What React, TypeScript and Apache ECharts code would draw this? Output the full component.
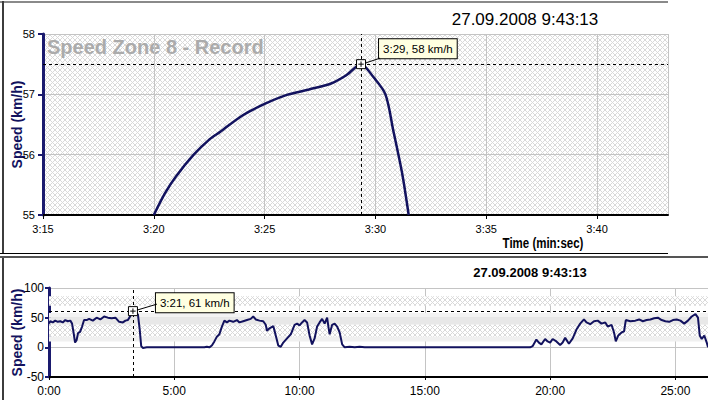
import React, { useEffect, useRef } from 'react';
import * as echarts from 'echarts';

// zoomed record, seconds / km/h
const zoomTimeSec = [200, 200.5, 201, 201.8, 202.5, 203, 204, 205, 206, 207, 208, 208.7, 209.35, 209.9, 210.45, 210.8, 211.2, 211.5];
const zoomSpeed = [55, 55.36, 55.64, 56, 56.25, 56.38, 56.65, 56.84, 56.99, 57.08, 57.18, 57.32, 57.5, 57.29, 57.0, 56.41, 55.7, 55.0];
const recordPeak = [209.35, 57.5];
const recordLabel = '3:29, 58 km/h';
const recordTitle = 'Speed Zone 8 - Record';
const recordDate = '27.09.2008 9:43:13';

// whole ride, minutes / km/h
const rideTimeMin = [
  0, 0.05, 0.15, 0.25, 0.35, 0.45, 0.55, 0.65, 0.75, 0.85, 0.92, 0.98, 1.04, 1.1, 1.16, 1.24, 1.32, 1.4, 1.5, 1.6,
  1.75, 1.9, 2.05, 2.2, 2.35, 2.5, 2.65, 2.8, 2.95, 3.05, 3.15, 3.25, 3.35, 3.45, 3.55, 3.62, 3.68, 3.75, 3.9, 5.0,
  6.2, 6.3, 6.4, 6.5, 6.6, 6.7, 6.8, 6.9, 7.0, 7.1, 7.2, 7.35, 7.5, 7.6, 7.75, 7.9, 8.05, 8.15, 8.25, 8.4,
  8.55, 8.65, 8.7, 8.8, 8.95, 9.05, 9.15, 9.25, 9.35, 9.5, 9.65, 9.8, 9.9, 10.0, 10.1, 10.2, 10.3, 10.4, 10.5, 10.6,
  10.7, 10.8, 10.9, 11.0, 11.1, 11.15, 11.2, 11.3, 11.4, 11.5, 11.6, 11.7, 11.8, 12.0, 12.2, 12.4, 12.6, 16.0, 19.2, 19.3,
  19.45, 19.55, 19.65, 19.8, 19.9, 20.0, 20.1, 20.25, 20.4, 20.5, 20.6, 20.75, 20.9, 21.05, 21.2, 21.35, 21.45, 21.6, 21.75, 21.9,
  22.05, 22.2, 22.3, 22.45, 22.55, 22.62, 22.72, 22.85, 22.95, 23.02, 23.2, 23.4, 23.55, 23.7, 23.85, 24.0, 24.15, 24.3, 24.45, 24.6,
  24.75, 24.9, 25.05, 25.2, 25.35, 25.5, 25.65, 25.8, 25.9, 25.97, 26.05, 26.15, 26.25, 26.3,
];
const rideSpeed = [
  40, 44, 42, 45, 43, 44, 42, 46, 44, 45, 40, 25, 8, 12, 24, 26, 35, 46, 46, 48,
  45, 50, 47, 52, 50, 49, 50, 43, 42, 45, 46, 53, 61, 60, 55, 30, 2, -1, 0, 0,
  0, 1, 0, 3, 10, 18, 22, 35, 45, 42, 45, 43, 46, 42, 44, 46, 48, 52, 47, 45,
  44, 38, 28, 32, 36, 20, 3, 1, 8, 15, 22, 38, 40, 37, 42, 46, 42, 20, 5, 15,
  35, 42, 48, 40, 50, 35, 22, 38, 40, 35, 25, 5, 0, 1, 0, 1, 0, 0, 0, 2,
  13, 8, 5, 14, 10, 8, 14, 10, 4, 8, 16, 6, 15, 30, 40, 47, 42, 39, 44, 45,
  40, 42, 35, 38, 25, 10, 20, 25, 27, 46, 44, 45, 47, 44, 46, 47, 49, 50, 46, 44,
  43, 46, 47, 45, 40, 45, 52, 56, 50, 20, 14, 20, 8, 0,
];
const ridePeak = [3.35, 61];
const rideLabel = '3:21, 61 km/h';
const rideDate = '27.09.2008 9:43:13';

// speed zones shown as bands on the ride chart
const zoneBands = [[70, 86], [50, 58], [38, 50], [18, 38], [10, 18]];

const NAVY = '#12125e';
const AXIS_NAVY = '#1a1a6e';
const SANS = '"Liberation Sans", Arial, sans-serif';

const hatchSvg =
  "<svg xmlns='http://www.w3.org/2000/svg' width='5' height='5'>" +
  "<rect width='5' height='5' fill='#ffffff'/>" +
  "<path d='M0,0L5,5M5,0L0,5' stroke='#d9d9d9' stroke-width='1'/></svg>";
const hatch = {
  image: 'data:image/svg+xml;charset=utf-8,' + encodeURIComponent(hatchSvg),
  repeat: 'repeat',
  imageWidth: 5,
  imageHeight: 5,
};
const zoneFills = [hatch, '#f3f3f3', '#e8e8e8', hatch, '#f0f0f0'];

const pad2 = (n: number) => String(Math.round(n)).padStart(2, '0');
const markerSymbol = 'path://M0,0L10,0L10,10L0,10Z M5,2L5,8 M2,5L8,5';

const tipLabel = (text: string, pos: number[]) => ({
  show: true,
  formatter: text,
  position: pos,
  align: 'left',
  verticalAlign: 'top',
  color: '#000',
  fontFamily: SANS,
  fontSize: 11.5,
  backgroundColor: '#ffffe1',
  borderColor: '#000',
  borderWidth: 1,
  padding: [4, 4, 3, 4],
});

const App: React.FC = () => {
  const chartRef = useRef<HTMLDivElement>(null);

  useEffect(() => {
    document.body.style.margin = '0';
    if (!chartRef.current) return;
    const chart = echarts.init(chartRef.current, null, { renderer: 'svg' });

    const option: any = {
      animation: false,
      backgroundColor: '#fff',
      grid: [
        {
          left: 43, top: 34, width: 625, height: 181, outerBoundsMode: 'none', containLabel: false,
          show: true, backgroundColor: hatch, borderWidth: 0,
        },
        { left: 49, top: 288, width: 659, height: 89, outerBoundsMode: 'none', containLabel: false, show: false },
      ],
      xAxis: [
        {
          type: 'value', gridIndex: 0, min: 195, max: 223.2, interval: 5,
          axisLine: { onZero: false, lineStyle: { color: '#000', width: 2 } },
          axisTick: { length: 4, lineStyle: { color: '#000' } },
          axisLabel: {
            margin: 8, color: '#000', fontFamily: SANS, fontSize: 11, showMaxLabel: false,
            formatter: (v: number) => `${Math.floor(v / 60)}:${pad2(v % 60)}`,
          },
          splitLine: { show: true, lineStyle: { color: '#c4c4c4', width: 1 } },
        },
        {
          type: 'value', gridIndex: 1, min: 0, max: 26.3, interval: 5,
          axisLine: { onZero: false, lineStyle: { color: '#000', width: 2 } },
          axisTick: { length: 3, lineStyle: { color: '#000' } },
          axisLabel: {
            margin: 8, color: '#000', fontFamily: SANS, fontSize: 12, showMaxLabel: false,
            formatter: (v: number) => `${v}:00`,
          },
          splitLine: { show: true, lineStyle: { color: '#c4c4c4', width: 1 } },
        },
      ],
      yAxis: [
        {
          type: 'value', gridIndex: 0, min: 55, max: 58, interval: 1,
          name: 'Speed (km/h)', nameLocation: 'middle', nameGap: 19, nameMoveOverlap: false,
          nameTextStyle: { color: NAVY, fontFamily: SANS, fontWeight: 'bold', fontSize: 14 },
          axisLine: { show: true, lineStyle: { color: AXIS_NAVY, width: 3 } },
          axisTick: { show: true, length: 5, lineStyle: { color: AXIS_NAVY, width: 2 } },
          axisLabel: { margin: 8, color: '#000', fontFamily: SANS, fontSize: 11 },
          splitLine: { show: true, lineStyle: { color: '#c4c4c4', width: 1 } },
        },
        {
          type: 'value', gridIndex: 1, min: -50, max: 100, interval: 50,
          name: 'Speed (km/h)', nameLocation: 'middle', nameGap: 25, nameMoveOverlap: false,
          nameTextStyle: { color: NAVY, fontFamily: SANS, fontWeight: 'bold', fontSize: 14 },
          axisLine: { show: true, lineStyle: { color: AXIS_NAVY, width: 3 } },
          axisTick: { show: true, length: 4, lineStyle: { color: AXIS_NAVY, width: 2 } },
          axisLabel: { margin: 5, color: '#000', fontFamily: SANS, fontSize: 12 },
          splitLine: { show: true, lineStyle: { color: '#c4c4c4', width: 1 } },
        },
      ],
      series: [
        {
          type: 'line', xAxisIndex: 0, yAxisIndex: 0,
          data: zoomTimeSec.map((t, i) => [t, zoomSpeed[i]]),
          smooth: 0.3, showSymbol: false, clip: true,
          lineStyle: { color: NAVY, width: 2.5 },
          markLine: {
            silent: true, symbol: ['none', 'none'], animation: false,
            label: { show: false },
            lineStyle: { color: '#000', type: [3, 3], width: 1 },
            data: [{ xAxis: recordPeak[0] }, { yAxis: recordPeak[1] }],
          },
          markPoint: {
            silent: true, animation: false,
            symbol: markerSymbol, symbolSize: 9,
            itemStyle: { color: '#fff', borderColor: '#000', borderWidth: 1 },
            label: tipLabel(recordLabel, [23, -20]),
            data: [{ coord: recordPeak }],
          },
        },
        {
          type: 'line', xAxisIndex: 1, yAxisIndex: 1,
          data: rideTimeMin.map((t, i) => [t, rideSpeed[i]]),
          showSymbol: false, clip: true,
          lineStyle: { color: NAVY, width: 2 },
          markArea: {
            silent: true,
            data: zoneBands.map((b, i) => [
              { yAxis: b[0], itemStyle: { color: zoneFills[i] } },
              { yAxis: b[1] },
            ]),
          },
          markLine: {
            silent: true, symbol: ['none', 'none'], animation: false,
            label: { show: false },
            lineStyle: { color: '#000', type: [3, 3], width: 1 },
            data: [{ xAxis: ridePeak[0] }, { yAxis: ridePeak[1] }],
          },
          markPoint: {
            silent: true, animation: false,
            symbol: markerSymbol, symbolSize: 9,
            itemStyle: { color: '#fff', borderColor: '#000', borderWidth: 1 },
            label: tipLabel(rideLabel, [28, -13]),
            data: [{ coord: ridePeak }],
          },
        },
      ],
      graphic: [
        { type: 'rect', shape: { x: 0, y: 1, width: 668, height: 2 }, style: { fill: '#8a8a8a' }, silent: true },
        { type: 'rect', shape: { x: 2, y: 1, width: 2, height: 253 }, style: { fill: '#3c3c3c' }, silent: true },
        { type: 'rect', shape: { x: 0, y: 253, width: 668, height: 1 }, style: { fill: '#000' }, silent: true },
        { type: 'rect', shape: { x: 0, y: 256, width: 708, height: 2 }, style: { fill: '#555' }, silent: true },
        { type: 'rect', shape: { x: 2, y: 258, width: 2, height: 142 }, style: { fill: '#3c3c3c' }, silent: true },
        {
          type: 'text', left: 47, top: 37, silent: true,
          style: { text: recordTitle, fill: '#ababab', font: `bold 20px ${SANS}` },
        },
        {
          type: 'text', x: 525, y: 19, silent: true,
          style: { text: recordDate, fill: '#000', font: `17px ${SANS}`, align: 'center', verticalAlign: 'middle' },
        },
        {
          type: 'text', x: 543, y: 243, scaleX: 0.82, silent: true,
          style: { text: 'Time (min:sec)', fill: '#000', font: `bold 14px ${SANS}`, align: 'center', verticalAlign: 'middle' },
        },
        {
          type: 'text', x: 530, y: 272, silent: true,
          style: { text: rideDate, fill: '#000', font: `bold 13px ${SANS}`, align: 'center', verticalAlign: 'middle' },
        },
      ],
    };

    chart.setOption(option);

    // thin connectors from the markers to their label boxes
    const p1 = chart.convertToPixel({ xAxisIndex: 0, yAxisIndex: 0 }, recordPeak);
    const p2 = chart.convertToPixel({ xAxisIndex: 1, yAxisIndex: 1 }, ridePeak);
    if (p1 && p2) {
      chart.setOption({
        graphic: [
          ...option.graphic,
          {
            type: 'line', silent: true, z: 10,
            shape: { x1: p1[0] + 4, y1: p1[1] - 1, x2: p1[0] + 19, y2: p1[1] - 6 },
            style: { stroke: '#000', lineWidth: 1 },
          },
          {
            type: 'line', silent: true, z: 10,
            shape: { x1: p2[0] + 4, y1: p2[1] - 1, x2: p2[0] + 24, y2: p2[1] - 7 },
            style: { stroke: '#000', lineWidth: 1 },
          },
        ],
      });
    }

    return () => {
      chart.dispose();
    };
  }, []);

  return <div ref={chartRef} style={{ width: 708, height: 400, background: '#fff' }} />;
};

export default App;
